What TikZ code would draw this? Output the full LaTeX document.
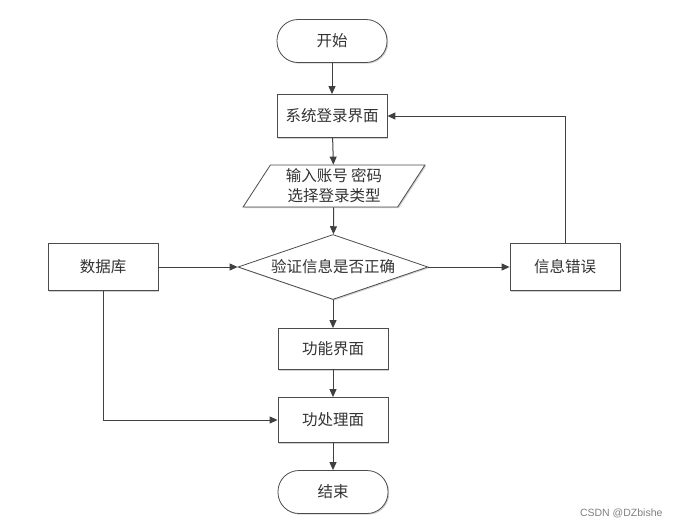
\documentclass[tikz,border=0pt]{standalone}
\usepackage{fontspec}
\setmainfont{Noto Sans CJK SC}
\newfontfamily\wmfont{Liberation Sans}
\usetikzlibrary{shapes.geometric,arrows.meta,shadows}
\tikzset{
  base/.style={draw=black!70, line width=0.8pt, fill=white, text=black!80, font=\fontsize{15.5}{18}\selectfont, align=center, inner sep=0pt,
    drop shadow={shadow xshift=1.2pt, shadow yshift=-1.2pt, fill=black!30, opacity=0.6}},
  procbox/.style={base, rectangle, minimum width=110pt},
  termbox/.style={base, rectangle, rounded corners=21pt, minimum width=110pt, minimum height=43pt},
  iobox/.style={base, trapezium, trapezium left angle=59, trapezium right angle=121, trapezium stretches=true, minimum width=182pt, minimum height=42pt},
  decbox/.style={base, diamond, aspect=2.9, minimum width=190pt, minimum height=65pt},
  conn/.style={draw=black!75, line width=1pt, -{Triangle[length=8pt,width=7pt]}},
}
\begin{document}
\begin{tikzpicture}[x=1pt,y=1pt]
\useasboundingbox (0,0) rectangle (680,-528);
\node[termbox] (start) at (332,-41) {开始};
\node[procbox, minimum height=43pt] (login) at (332,-116) {系统登录界面};
\node[iobox] (input) at (334,-186) {输入账号 密码\\[2pt]选择登录类型};
\node[decbox] (check) at (333,-267) {验证信息是否正确};
\node[procbox, minimum height=47pt] (db) at (103,-267) {数据库};
\node[procbox, minimum height=47pt] (err) at (565,-267) {信息错误};
\node[procbox, minimum height=41pt] (func) at (333,-349) {功能界面};
\node[procbox, minimum height=45pt] (proc) at (333,-420) {功处理面};
\node[termbox] (end) at (333,-492) {结束};
\node[text=black!50, font=\wmfont\fontsize{10.5}{12}\selectfont, anchor=east] (wm) at (666,-513) {CSDN @DZbishe};
\coordinate (errtop) at (565,-116);
\coordinate (dbbot) at (103,-420);
\draw[conn] (start) -- (login);
\draw[conn] (login) -- (input);
\draw[conn] (input) -- (check);
\draw[conn] (db) -- (check);
\draw[conn] (check) -- (err);
\draw[conn] (check) -- (func);
\draw[conn] (func) -- (proc);
\draw[conn] (proc) -- (end);
\draw[conn] (err.north) -- (errtop) -- (login.east);
\draw[conn] (db.south) -- (dbbot) -- (proc.west);
\end{tikzpicture}
\end{document}
